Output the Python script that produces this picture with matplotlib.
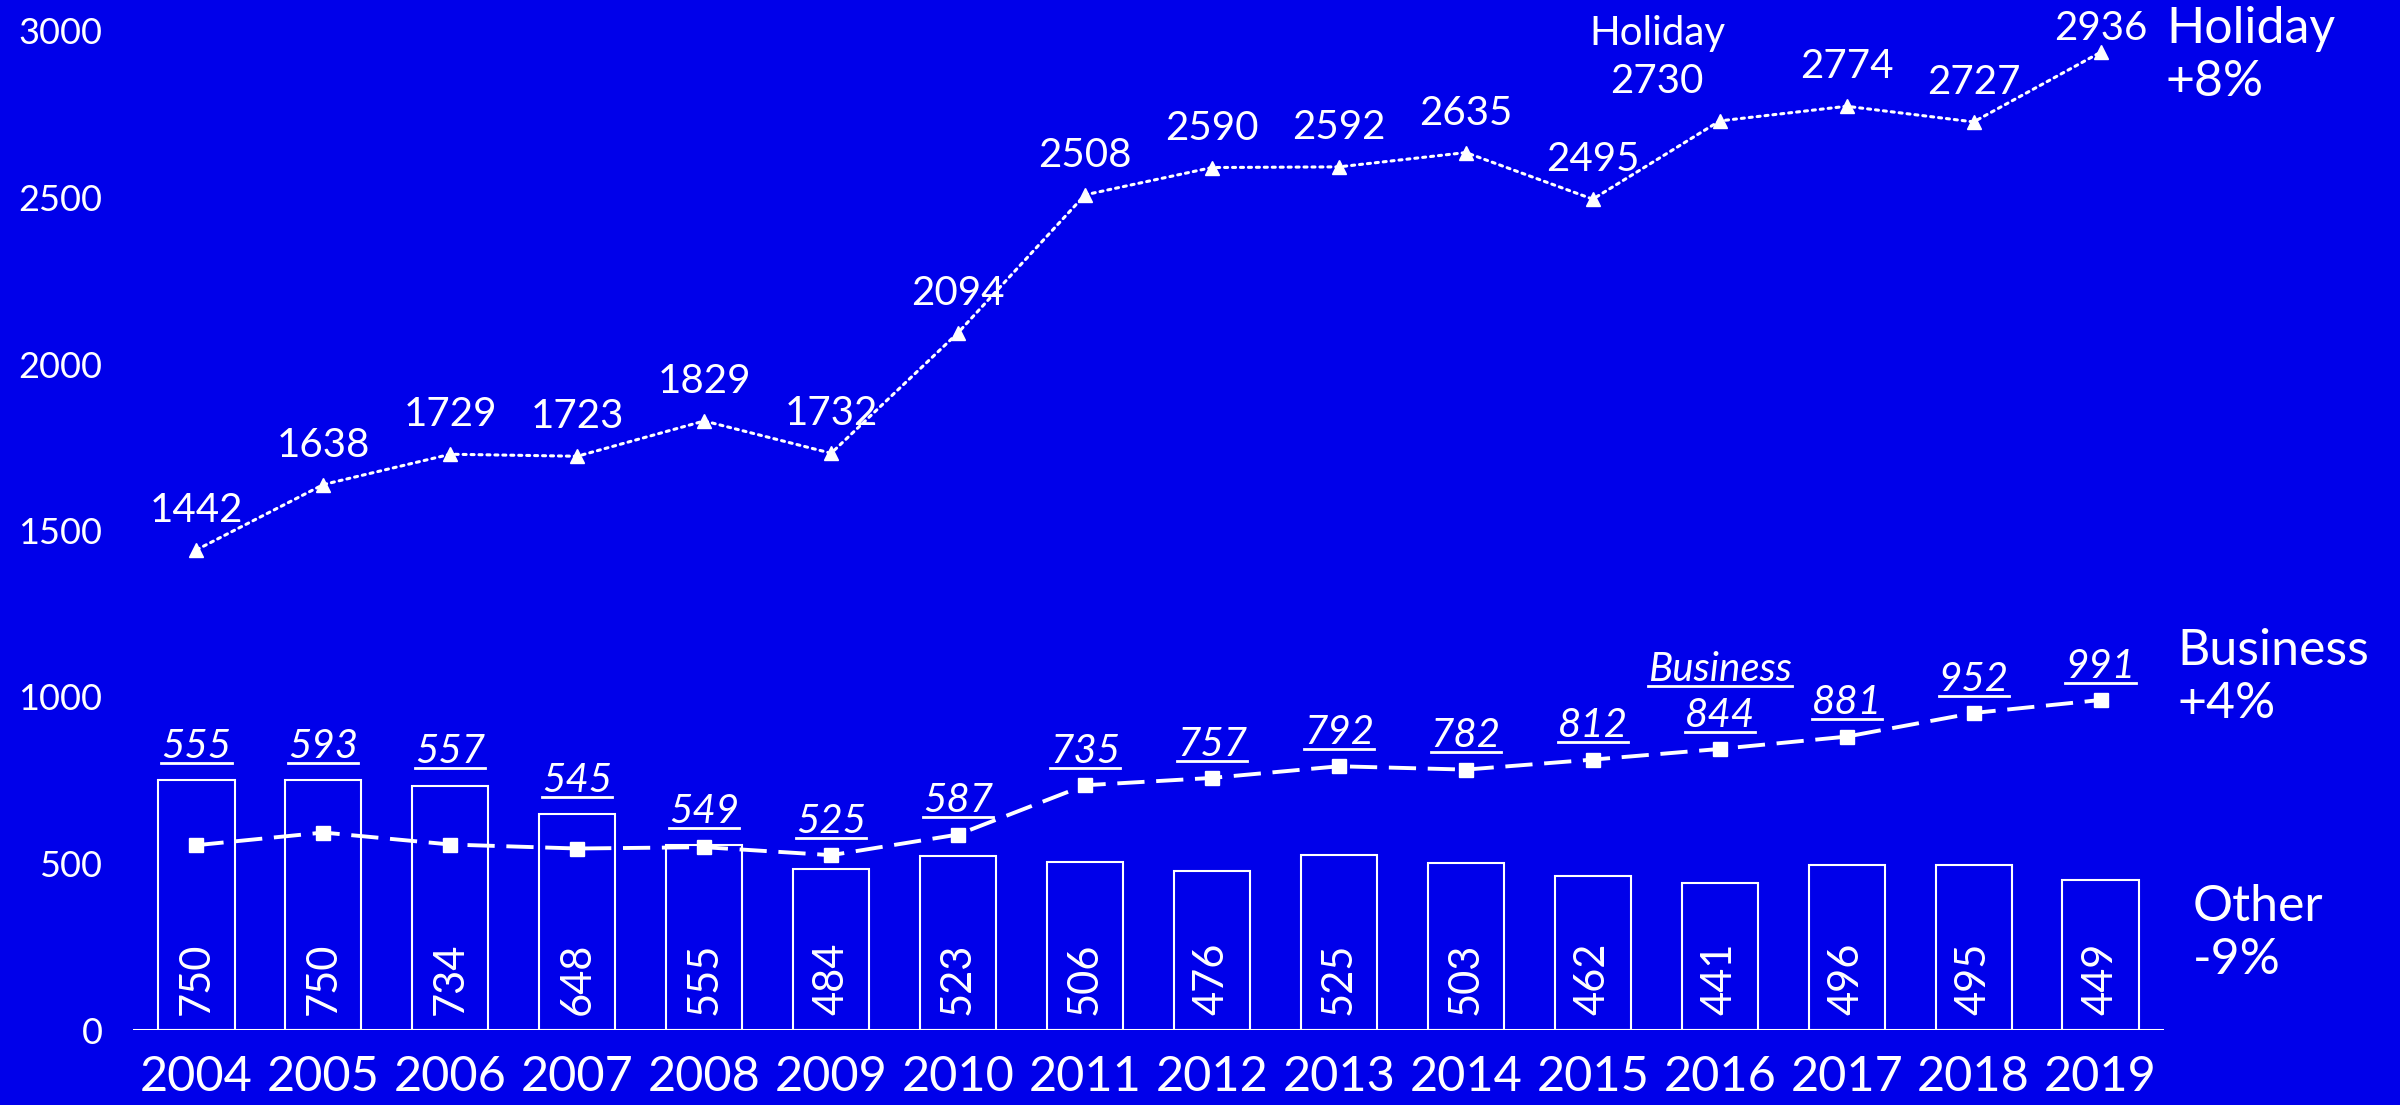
import numpy as np
import matplotlib.pyplot as plt
from matplotlib.lines import Line2D

# 数据
years = list(range(2004, 2020))
holiday = [1442, 1638, 1729, 1723, 1829, 1732, 2094, 2508, 2590, 2592, 2635, 2495, 2730, 2774, 2727, 2936]
business = [555, 593, 557, 545, 549, 525, 587, 735, 757, 792, 782, 812, 844, 881, 952, 991]
other = [750, 750, 734, 648, 555, 484, 523, 506, 476, 525, 503, 462, 441, 496, 495, 449]
yticks = [0, 500, 1000, 1500, 2000, 2500, 3000]
side_labels = ["Holiday\n+8%", "Business\n+4%", "Other\n-9%"]

BG = "#0000EA"
FG = "white"
plt.rcParams["font.family"] = ["Lato", "DejaVu Sans"]

fig = plt.figure(figsize=(24, 11.05), dpi=100, facecolor=BG)
ax = fig.add_axes([133 / 2400, 75 / 1105, 2031 / 2400, 999 / 1105])
ax.set_facecolor(BG)

x = np.array(years)

# 柱子（Other）
ax.bar(x, other, width=0.6, facecolor="none", edgecolor=FG, linewidth=1.5, zorder=2)
ax.axhline(0, color=FG, linewidth=2.2, zorder=3)

# 折线
ax.plot(x, holiday, color=FG, linewidth=2.2, linestyle=(0, (1, 1.6)),
        dash_capstyle="round", marker="^", markersize=10, zorder=4)
ax.plot(x, business, color=FG, linewidth=2.8, linestyle=(0, (7, 3)),
        marker="s", markersize=10.5, zorder=4)

# 柱内数值
for xi, v in zip(x, other):
    ax.annotate(str(v), (xi, 0), xytext=(0, 11), textcoords="offset points",
                rotation=90, ha="center", va="bottom", color=FG, fontsize=30)

# Holiday 数值
for i, (xi, v) in enumerate(zip(x, holiday)):
    dy = 20 if i < len(x) - 1 else 9
    dx = -45 if years[i] == 2016 else 0
    ax.annotate(str(v), (xi, v), xytext=(dx, dy), textcoords="offset points",
                ha="center", va="baseline", color=FG, fontsize=29)
    if years[i] == 2016:
        ax.annotate("Holiday", (xi, v), xytext=(dx, dy + 35), textcoords="offset points",
                    ha="center", va="baseline", color=FG, fontsize=29)

# Business 数值（斜体+下划线）
ul_texts = []
for i, (xi, v) in enumerate(zip(x, business)):
    base = max(v, other[i])
    t = ax.annotate(str(v), (xi, base), xytext=(0, 16), textcoords="offset points",
                    ha="center", va="baseline", color=FG, fontsize=29, style="italic")
    ul_texts.append((t, xi, base, 16))
    if years[i] == 2016:
        t2 = ax.annotate("Business", (xi, base), xytext=(0, 49), textcoords="offset points",
                         ha="center", va="baseline", color=FG, fontsize=29, style="italic")
        ul_texts.append((t2, xi, base, 49))

# 坐标轴
ax.set_xlim(2003.5, 2019.5)
ax.set_ylim(0, 3000)
ax.set_yticks(yticks)
ax.set_xticks(x)
ax.set_xticklabels([str(y) for y in years])
ax.tick_params(axis="y", length=0, pad=22, labelsize=26, labelcolor=FG)
ax.tick_params(axis="x", length=0, pad=18, labelsize=35, labelcolor=FG)
for s in ax.spines.values():
    s.set_visible(False)

# 右侧标签
fig.text(2166 / 2400, 1 - 6 / 1105, side_labels[0], color=FG, fontsize=36,
         ha="left", va="top", linespacing=1.2)
fig.text(2177 / 2400, 1 - 628 / 1105, side_labels[1], color=FG, fontsize=36,
         ha="left", va="top", linespacing=1.2)
fig.text(2193 / 2400, 1 - 884 / 1105, side_labels[2], color=FG, fontsize=36,
         ha="left", va="top", linespacing=1.2)

# 下划线
fig.canvas.draw()
r = fig.canvas.get_renderer()
for t, xi, base, dy in ul_texts:
    bb = t.get_window_extent(r)
    px, py = ax.transData.transform((xi, base))
    yb = py + dy * fig.dpi / 72 - 5
    (fx0, fy), (fx1, _) = fig.transFigure.inverted().transform([(bb.x0, yb), (bb.x1, yb)])
    fig.add_artist(Line2D([fx0, fx1], [fy, fy], color=FG, linewidth=2))

plt.savefig("out.png", dpi=100, facecolor=BG)
